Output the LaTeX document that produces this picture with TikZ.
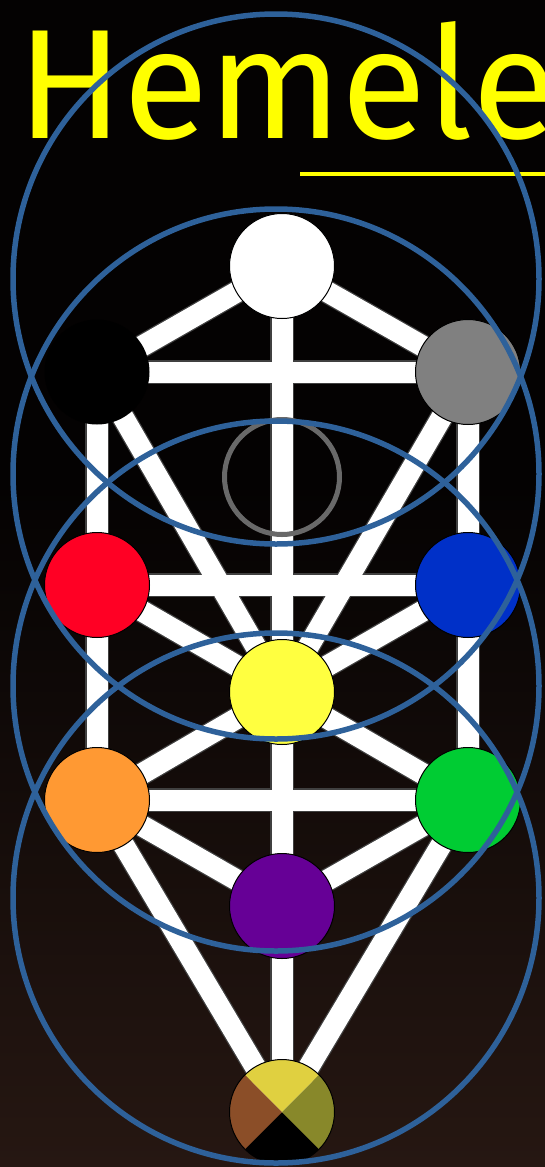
\documentclass[tikz,border=0pt]{standalone}
\usepackage{fontspec}
\newfontfamily\titlefont{Fira Sans}

\pgfdeclarelayer{backdrop}
\pgfdeclarelayer{paths}
\pgfsetlayers{backdrop,paths,main}

\definecolor{bgtop}{RGB}{4,2,2}
\definecolor{bgbot}{RGB}{38,23,18}
\definecolor{ringblue}{RGB}{46,97,154}
\definecolor{titleyellow}{RGB}{255,255,0}
\definecolor{daatgray}{RGB}{105,105,105}
\definecolor{chokmahgray}{RGB}{128,128,128}
\definecolor{gevurahred}{RGB}{255,0,36}
\definecolor{chesedblue}{RGB}{0,48,200}
\definecolor{tiferetyellow}{RGB}{255,255,64}
\definecolor{hodorange}{RGB}{255,153,51}
\definecolor{netzachgreen}{RGB}{0,204,51}
\definecolor{yesodpurple}{RGB}{102,0,150}
\definecolor{malkuthtop}{RGB}{224,208,64}
\definecolor{malkuthleft}{RGB}{139,78,40}
\definecolor{malkuthright}{RGB}{136,136,42}

\begin{document}
\begin{tikzpicture}[x=1pt,y=-1pt,
  sephira/.style={circle, draw=black, line width=1pt, inner sep=0pt, outer sep=0pt, minimum size=105pt},
  pathedge/.style={draw=black!75, line width=23.5pt},
  pathfill/.style={draw=white, line width=21pt},
  halo/.style={draw=ringblue, line width=5.5pt}]
\useasboundingbox (0,0) rectangle (545,1167);
\clip (0,0) rectangle (545,1167);
\begin{pgfonlayer}{backdrop}
\fill[bgtop] (0,0) rectangle (545,480);
\shade[top color=bgtop, bottom color=bgbot] (0,479) rectangle (545,1167);
\end{pgfonlayer}

% the sephirot
\node[sephira, fill=white] (keter) at (282,266) {};
\node[sephira, fill=black, draw=none] (binah) at (97,372) {};
\node[sephira, fill=chokmahgray] (chokmah) at (468,372) {};
\node[circle, draw=daatgray, line width=5pt, inner sep=0pt, minimum size=115pt] (daat) at (282,477) {};
\node[sephira, fill=gevurahred] (gevurah) at (97,585) {};
\node[sephira, fill=chesedblue] (chesed) at (468,585) {};
\node[sephira, fill=tiferetyellow] (tiferet) at (282,692) {};
\node[sephira, fill=hodorange] (hod) at (97,800) {};
\node[sephira, fill=netzachgreen] (netzach) at (468,800) {};
\node[sephira, fill=yesodpurple] (yesod) at (282,906) {};
\node[sephira, path picture={
    \fill[black] (path picture bounding box.center) -- ++(-60,60) -- ++(120,0) -- cycle;
    \fill[malkuthtop] (path picture bounding box.center) -- ++(-60,-60) -- ++(120,0) -- cycle;
    \fill[malkuthleft] (path picture bounding box.center) -- ++(-60,-60) -- ++(0,120) -- cycle;
    \fill[malkuthright] (path picture bounding box.center) -- ++(60,-60) -- ++(0,120) -- cycle;
  }] (malkuth) at (282,1112) {};

% the 22 paths, outline first and then the white
\begin{pgfonlayer}{paths}
\foreach \sty in {pathedge,pathfill}
  \foreach \a/\b in {keter/chokmah, keter/binah, keter/tiferet, binah/chokmah,
      chokmah/tiferet, chokmah/chesed, binah/tiferet, binah/gevurah,
      gevurah/chesed, chesed/tiferet, chesed/netzach, gevurah/tiferet,
      gevurah/hod, tiferet/netzach, tiferet/hod, tiferet/yesod,
      hod/netzach, netzach/yesod, netzach/malkuth, hod/yesod,
      hod/malkuth, yesod/malkuth}
    \draw[\sty] (\a.center) -- (\b.center);
\end{pgfonlayer}

% title
\node[anchor=base west, inner sep=0pt, text=titleyellow,
  font=\titlefont\fontsize{156}{156}\selectfont] (title) at (17,138) {Hemele};
\draw[titleyellow, line width=4pt] (300,174) -- (545,174);

% the four worlds
\draw[halo] (276,279) circle[x radius=263, y radius=265];
\draw[halo] (276,474) circle[x radius=263, y radius=265];
\draw[halo] (276,686) circle[x radius=263, y radius=265];
\draw[halo] (276,898) circle[x radius=263, y radius=265];
\end{tikzpicture}
\end{document}
